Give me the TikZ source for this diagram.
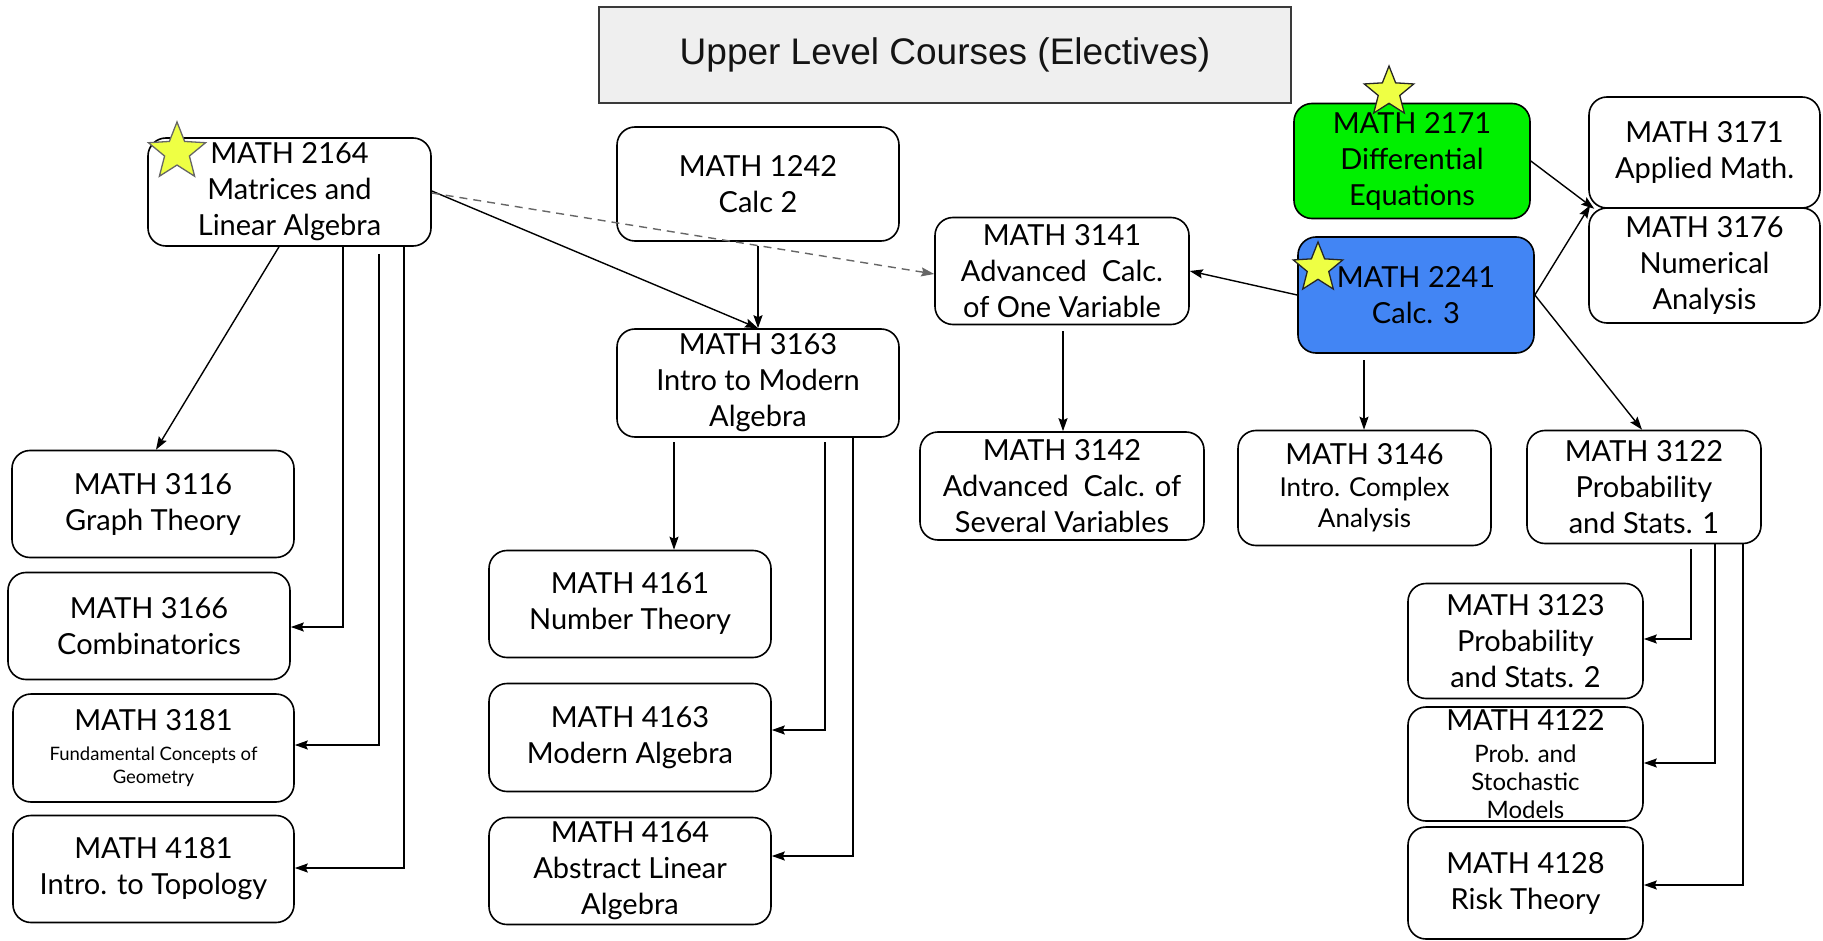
\documentclass[tikz,border=0pt]{standalone}
\usepackage{fontspec}
\newfontfamily\lato{Lato}
\newfontfamily\arialf{Liberation Sans}
\usetikzlibrary{shapes.geometric,arrows.meta}
\definecolor{titlefill}{HTML}{EFEFEF}
\definecolor{titledraw}{HTML}{3A3A3A}
\definecolor{diffgreen}{HTML}{00F000}
\definecolor{calcblue}{HTML}{4285F4}
\definecolor{staryellow}{HTML}{EEFF44}
\definecolor{dashgray}{HTML}{666666}
\tikzset{
  course/.style={draw=black, line width=1.6pt, rounded corners=18pt, align=center,
    inner sep=0pt, font=\lato\fontsize{29}{36}\selectfont, text=black},
  conn/.style={draw=black, line width=1.4pt, -{Stealth[length=13pt,width=9pt,inset=2pt]}},
  dashconn/.style={draw=dashgray, line width=1.4pt, dash pattern=on 8pt off 6pt,
    -{Stealth[length=13pt,width=9pt,inset=2pt]}},
  favstar/.style={star, star points=5, star point ratio=2.3, fill=staryellow,
    line width=1.3pt, inner sep=0pt},
}
\begin{document}
\begin{tikzpicture}[x=1pt,y=-1pt]
\useasboundingbox (0,0) rectangle (1823,941);

% title
\node[draw=titledraw, fill=titlefill, line width=1.6pt, minimum width=692pt, minimum height=96pt,
  inner sep=0pt, font=\arialf\fontsize{37}{44}\selectfont, text={rgb,255:red,20;green,20;blue,20}]
  (title) at (945,55) {Upper Level Courses (Electives)};

% nodes
\node[course, minimum width=283pt, minimum height=108pt] (t2164) at (289.5,192) {MATH 2164\\Matrices and\\Linear Algebra};
\node[course, minimum width=282pt, minimum height=114pt] (t1242) at (758,184) {MATH 1242\\Calc 2};
\node[course, minimum width=282pt, minimum height=108pt] (t3163) at (758,383) {MATH 3163\\Intro to Modern\\Algebra};
\node[course, minimum width=254pt, minimum height=107pt] (t3141) at (1062,271) {MATH 3141\\Advanced\ \ Calc.\\of One Variable};
\node[course, fill=diffgreen, minimum width=236pt, minimum height=115pt] (t2171) at (1412,161) {MATH 2171\\Differential\\Equations};
\node[course, fill=calcblue, minimum width=236pt, minimum height=116pt] (t2241) at (1416,295) {MATH 2241\\Calc. 3};
\node[course, minimum width=231pt, minimum height=111pt] (t3171) at (1704.5,152.5) {MATH 3171\\Applied Math.};
\node[course, minimum width=231pt, minimum height=115pt] (t3176) at (1704.5,265.5) {MATH 3176\\Numerical\\Analysis};
\node[course, minimum width=284pt, minimum height=108pt] (t3142) at (1062,486) {MATH 3142\\Advanced\ \ Calc. of\\Several Variables};
\node[course, minimum width=253pt, minimum height=115pt] (t3146) at (1364.5,488)
  {MATH 3146\\[-4pt]{\fontsize{26}{31}\selectfont Intro. Complex}\\[-5pt]{\fontsize{26}{31}\selectfont Analysis}};
\node[course, minimum width=234pt, minimum height=113pt] (t3122) at (1644,487) {MATH 3122\\Probability\\and Stats. 1};
\node[course, minimum width=235pt, minimum height=115pt] (t3123) at (1525.5,641) {MATH 3123\\Probability\\and Stats. 2};
\node[course, minimum width=235pt, minimum height=114pt] (t4122) at (1525.5,764)
  {MATH 4122\\[-4pt]{\fontsize{24}{28}\selectfont Prob. and}\\[-8pt]{\fontsize{24}{28}\selectfont Stochastic}\\[-8pt]{\fontsize{24}{28}\selectfont Models}};
\node[course, minimum width=235pt, minimum height=112pt] (t4128) at (1525.5,883) {MATH 4128\\Risk Theory};
\node[course, minimum width=282pt, minimum height=107pt] (t3116) at (153,504) {MATH 3116\\Graph Theory};
\node[course, minimum width=282pt, minimum height=107pt] (t3166) at (149,626) {MATH 3166\\Combinatorics};
\node[course, minimum width=281pt, minimum height=108pt] (t3181) at (153.5,748)
  {MATH 3181\\[-6pt]{\fontsize{18.5}{22}\selectfont Fundamental Concepts of}\\[-13pt]{\fontsize{18.5}{22}\selectfont Geometry}};
\node[course, minimum width=281pt, minimum height=107pt] (t4181) at (153.5,869) {MATH 4181\\Intro. to Topology};
\node[course, minimum width=282pt, minimum height=107pt] (t4161) at (630,604) {MATH 4161\\Number Theory};
\node[course, minimum width=282pt, minimum height=108pt] (t4163) at (630,737.5) {MATH 4163\\Modern Algebra};
\node[course, minimum width=282pt, minimum height=107pt] (t4164) at (630,871) {MATH 4164\\Abstract Linear\\Algebra};

% stars
\node[favstar, draw=dashgray, minimum size=60pt] (s2164) at (177,152) {};
\node[favstar, draw=black!85, minimum size=52pt] (s2171) at (1389,92) {};
\node[favstar, draw=black!85, minimum size=52pt] (s2241) at (1318,268) {};

% connectors from 2164
\draw[conn] (t2164.south -| 279,0) -- (t3116.north -| 156,0);
\coordinate (a1) at (343,627);
\draw[conn] (t2164.south -| a1) -- (a1) -- (t3166.east |- a1);
\coordinate (a2s) at (379,254);
\coordinate (a2) at (379,745);
\draw[conn] (a2s) -- (a2) -- (t3181.east |- a2);
\coordinate (a3) at (404,868);
\draw[conn] (t2164.south -| a3) -- (a3) -- (t4181.east |- a3);
\draw[conn] ([yshift=1pt]t2164.east) -- (t3163.north);
\draw[dashconn] ([yshift=-1pt]t2164.east) -- ([yshift=-3pt]t3141.west);

% 1242 -> 3163
\coordinate (c1s) at (758,246);
\draw[conn] (c1s) -- (t3163.north);

% from 3163
\coordinate (b1s) at (674,442);
\draw[conn] (b1s) -- (t4161.north -| b1s);
\coordinate (b2s) at (825,442);
\coordinate (b2) at (825,730);
\draw[conn] (b2s) -- (b2) -- (t4163.east |- b2);
\coordinate (b3) at (853,856);
\draw[conn] (t3163.south -| b3) -- (b3) -- (t4164.east |- b3);

% from 2241
\draw[conn] (t2241.west) -- (t3141.east);
\coordinate (d2s) at (1364,360);
\draw[conn] (d2s) -- (t3146.north -| d2s);
\draw[conn] (t2241.east) -- ([xshift=2pt,yshift=2pt]t3176.north west);
\draw[conn] (t2241.east) -- ([xshift=-2pt]t3122.north);

% 3141 -> 3142
\coordinate (d1s) at (1063,331);
\draw[conn] (d1s) -- (t3142.north -| d1s);

% 2171 -> 3171
\draw[conn] (t2171.east) -- ([xshift=6pt]t3171.south west);

% from 3122
\coordinate (f1s) at (1691,549);
\coordinate (f1) at (1691,639);
\draw[conn] (f1s) -- (f1) -- (t3123.east |- f1);
\coordinate (f2) at (1715,763);
\draw[conn] (t3122.south -| f2) -- (f2) -- (t4122.east |- f2);
\coordinate (f3) at (1743,885);
\draw[conn] (t3122.south -| f3) -- (f3) -- (t4128.east |- f3);
\end{tikzpicture}
\end{document}
